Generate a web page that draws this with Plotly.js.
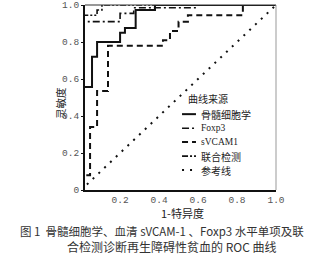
<!DOCTYPE html>
<html>
<head>
<meta charset="utf-8">
<script src="https://cdn.plot.ly/plotly-3.0.1.min.js"></script>
<style>html,body{margin:0;padding:0;background:#fff;}#chart{width:328px;height:257px;}</style>
</head>
<body>
<div id="chart"></div>
<script>
// ---- data ----
const seriesNames = ["骨髓细胞学", "Foxp3", "sVCAM1", "联合检测", "参考线"];
const legendTitle = "曲线来源";

const boneX = [0, 0, 0.056, 0.056, 0.082, 0.082, 0.20, 0.20, 0.225, 0.225, 0.28, 0.28, 0.379, 0.379, 1.0];
const boneY = [0, 0.557, 0.557, 0.72, 0.72, 0.80, 0.80, 0.85, 0.85, 0.876, 0.876, 0.973, 0.973, 1.0, 1.0];

const foxX = [0, 0, 0.20, 0.20, 0.27, 0.27, 0.595, 0.595, 1.0];
const foxY = [0, 0.91, 0.91, 0.955, 0.955, 0.985, 0.985, 1.0, 1.0];

const svcX = [0, 0, 0.046, 0.046, 0.082, 0.082, 0.138, 0.138, 0.42, 0.42, 0.456, 0.456, 0.50, 0.50, 0.548, 0.548, 0.83, 0.83, 1.0];
const svcY = [0, 0.08, 0.08, 0.34, 0.34, 0.535, 0.535, 0.78, 0.78, 0.81, 0.81, 0.86, 0.86, 0.91, 0.91, 0.945, 0.945, 1.0, 1.0];

const combX = [0, 0, 0.082, 0.082, 0.107, 0.107, 1.0];
const combY = [0, 0.945, 0.945, 0.973, 0.973, 1.0, 1.0];

const refX = [0, 1];
const refY = [0, 1];

const xTicks = [0.2, 0.4, 0.6, 0.8, 1.0];
const xTickText = ["0.2", "0.4", "0.6", "0.8", "1.0"];
const yTicks = [0, 0.2, 0.4, 0.6, 0.8, 1.0];
const yTickText = ["0", "0.2", "0.4", "0.6", "0.8", "1.0"];

// ---- styles ----
const ink = "#111";
const styles = [
  {dash: "solid", width: 2},
  {dash: "7px,3px,2px,3px", width: 1.6},
  {dash: "6px,4px", width: 2},
  {dash: "6px,2px,2px,2px,2px,2px", width: 1.6},
  {dash: "2px,6px", width: 2}
];
const xs = [boneX, foxX, svcX, combX, refX];
const ys = [boneY, foxY, svcY, combY, refY];

const traces = xs.map((x, i) => ({
  x: x, y: ys[i], type: "scatter", mode: "lines", name: seriesNames[i],
  line: {color: ink, width: styles[i].width, dash: styles[i].dash},
  showlegend: false, hoverinfo: "skip"
}));

// manual legend (positions in paper coordinates)
const legX0 = 0.508, legX1 = 0.581, legTextX = 0.597;
const legRows = [0.41, 0.334, 0.259, 0.183, 0.108];
const shapes = [
  {type: "line", xref: "paper", yref: "paper", x0: 0, x1: 1, y0: 1, y1: 1, line: {color: "#333", width: 1.2}},
  {type: "line", xref: "paper", yref: "paper", x0: 1, x1: 1, y0: 0, y1: 1, line: {color: "#999", width: 1}}
];
const annotations = [];
annotations.push({xref: "paper", yref: "paper", x: 0.644, y: 0.492, text: legendTitle, showarrow: false,
  xanchor: "center", yanchor: "middle", font: {family: "Noto Sans CJK SC", size: 10, color: "#222"}});
seriesNames.forEach((n, i) => {
  shapes.push({type: "line", xref: "paper", yref: "paper", x0: legX0, x1: legX1, y0: legRows[i], y1: legRows[i],
    line: {color: ink, width: styles[i].width, dash: styles[i].dash}});
  const latin = /^[A-Za-z0-9]+$/.test(n);
  annotations.push({xref: "paper", yref: "paper", x: legTextX, y: legRows[i], text: n, showarrow: false,
    xanchor: "left", yanchor: "middle",
    font: {family: latin ? "Liberation Serif" : "Noto Sans CJK SC", size: latin ? 9.5 : 10, color: "#222"}});
});

// axis titles and caption
annotations.push({xref: "paper", yref: "paper", x: 0.508, y: -0.124, text: "1-特异度", showarrow: false,
  xanchor: "center", yanchor: "middle", font: {family: "Noto Sans CJK SC", size: 11, color: "#222"}});
annotations.push({xref: "paper", yref: "paper", x: -0.131, y: 0.47, text: "灵敏度", showarrow: false, textangle: -90,
  xanchor: "center", yanchor: "middle", font: {family: "Noto Sans CJK SC", size: 10.5, color: "#222"}});
annotations.push({xref: "paper", yref: "paper", x: -0.351, y: -0.222,
  text: "图 1  骨髓细胞学、血清 sVCAM-1 、Foxp3 水平单项及联", showarrow: false,
  xanchor: "left", yanchor: "middle", font: {family: "Noto Sans CJK SC", size: 11.5, color: "#333"}});
annotations.push({xref: "paper", yref: "paper", x: 0.455, y: -0.304,
  text: "合检测诊断再生障碍性贫血的 ROC 曲线", showarrow: false,
  xanchor: "center", yanchor: "middle", font: {family: "Noto Sans CJK SC", size: 12, color: "#333"}});

const layout = {
  width: 328, height: 257,
  margin: {l: 85, r: 52, t: 5, b: 67, autoexpand: false},
  paper_bgcolor: "#fff", plot_bgcolor: "#fff",
  showlegend: false,
  xaxis: {range: [0.02, 1.0], tickvals: xTicks, ticktext: xTickText, showgrid: false, zeroline: false,
    showline: true, linecolor: "#111", linewidth: 2, ticks: "", fixedrange: true,
    tickfont: {family: "Liberation Mono", size: 9.5, color: "#555"}},
  yaxis: {range: [0, 1.0], tickvals: yTicks, ticktext: yTickText, showgrid: false, zeroline: false,
    showline: true, linecolor: "#111", linewidth: 2, ticks: "outside", ticklen: 2, tickcolor: "#111", fixedrange: true,
    tickfont: {family: "Liberation Mono", size: 9.5, color: "#555"}},
  shapes: shapes,
  annotations: annotations
};

Plotly.newPlot("chart", traces, layout, {displayModeBar: false, staticPlot: true});
</script>
</body>
</html>
